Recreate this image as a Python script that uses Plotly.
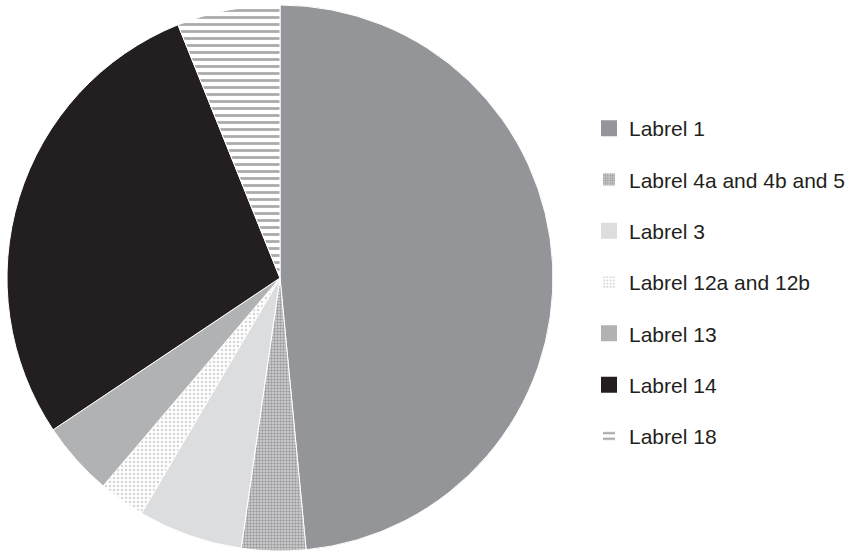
import plotly.graph_objects as go

labels = ["Labrel 1", "Labrel 4a and 4b and 5", "Labrel 3", "Labrel 12a and 12b",
          "Labrel 13", "Labrel 14", "Labrel 18"]
values = [48.5, 3.8, 6.2, 2.75, 4.4, 28.3, 6.1]

colors = ["#939598", "#d4d4d6", "#dcdddf", "#ffffff", "#b1b2b4", "#231f20", "#ffffff"]
shapes = ["", ".", "", ".", "", "", "-"]
fgcolors = ["#939598", "#626264", "#dcdddf", "#aeaeb0", "#b1b2b4", "#231f20", "#58585a"]
sizes = [8, 3, 8, 4, 8, 8, 7]
solids = [0.3, 0.5, 0.3, 0.35, 0.3, 0.3, 0.4]

fig = go.Figure()
fig.add_trace(go.Pie(
    labels=labels, values=values, sort=False, direction="clockwise", rotation=0,
    textinfo="none", hoverinfo="label+value", showlegend=False,
    marker=dict(colors=colors, line=dict(color="white", width=1),
                pattern=dict(shape=shapes, fgcolor=fgcolors, bgcolor=colors,
                             size=sizes, solidity=solids, fillmode="overlay")),
    domain=dict(x=[7/851, 553/851], y=[3/554, 549/554]),
))

for i, lab in enumerate(labels):
    solid = shapes[i] == ""
    fig.add_trace(go.Bar(
        x=[None], y=[None], name=lab, legendgroup=f"g{i}", showlegend=True,
        marker=dict(color=colors[i],
                    line=dict(color=colors[i], width=4 if solid else 0),
                    pattern=dict(shape=shapes[i], fgcolor=fgcolors[i], bgcolor=colors[i],
                                 size=sizes[i], solidity=solids[i], fillmode="overlay")),
    ))

fig.update_layout(
    width=851, height=554,
    margin=dict(l=0, r=0, t=0, b=0),
    paper_bgcolor="white", plot_bgcolor="white",
    xaxis=dict(visible=False), yaxis=dict(visible=False),
    legend=dict(x=589/851, xanchor="left", y=1 - 108/554, yanchor="top",
                font=dict(family="Liberation Sans, Arial, sans-serif", size=21, color="#231f20"),
                tracegroupgap=21, traceorder="grouped", bgcolor="rgba(0,0,0,0)"),
    showlegend=True,
)

fig.write_html("out.html", config={"displayModeBar": False},
               post_script="document.body.style.margin='0px';")
